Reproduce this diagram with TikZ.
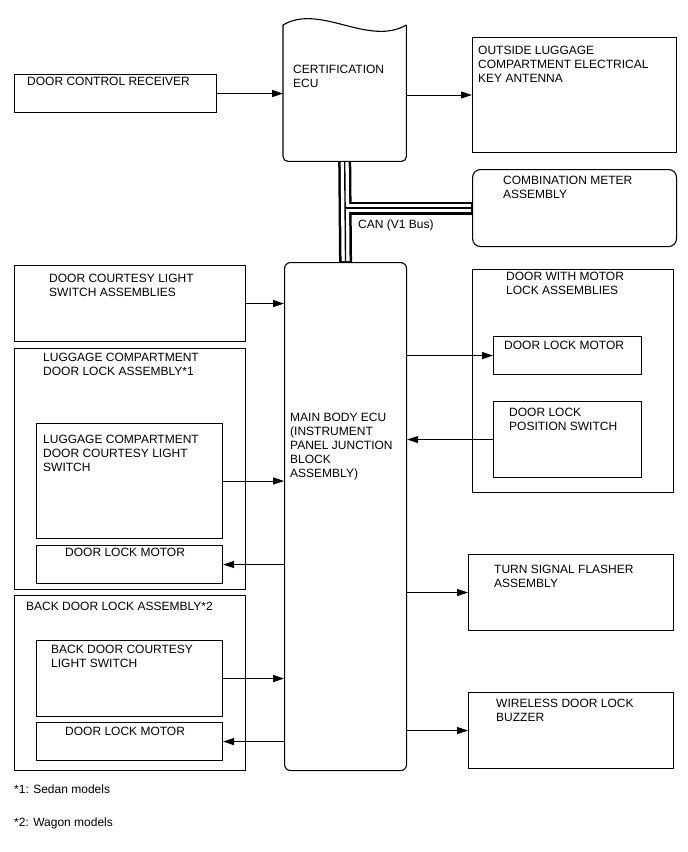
\documentclass[tikz,border=0pt]{standalone}
\usepackage{fontspec}
\setmainfont{Liberation Sans}
\usepackage{tikz}
\usetikzlibrary{arrows.meta,positioning,calc}
\colorlet{figink}{black}

\begin{document}
\begin{tikzpicture}[
  x=1pt, y=-1pt,
  font=\fontsize{12}{14}\selectfont,
  blk/.style={draw=figink, line width=1.1pt, inner sep=0pt, anchor=north west},
  lbl/.style={inner sep=0pt, anchor=north west, align=left, text=figink},
  sig/.style={figink, line width=1pt, -{Triangle[length=11pt,width=7pt]}},
]
  \useasboundingbox (0,0) rectangle (688,852);

  % plain boxes: name / left / top / right / bottom
  \foreach \nm/\xa/\ya/\xb/\yb in {
    recv/14/74/216/112,
    outside/472/37/676/152,
    court/14/265/245/341,
    lcasm/14/348/245/589,
    lcsw/36/423/222/538,
    lcmot/36/545/222/583,
    bdasm/14/595/245/770,
    bdsw/36/640/222/716,
    bdmot/36/722/222/760,
    drasm/472/269/673/492,
    drmot/493/336/641/374,
    drpos/493/401/641/477,
    turn/468/554/673/630,
    buzz/468/692/673/768%
  } {
    \node[blk, minimum width={(\xb-\xa)*1pt}, minimum height={(\yb-\ya)*1pt}]
      (\nm) at (\xa,\ya) {};
  }

  % rounded ones
  \node[blk, rounded corners=8pt, minimum width=204pt, minimum height=77pt] (comb) at (472,169) {};
  \node[blk, rounded corners=6pt, minimum width=122pt, minimum height=508pt] (main) at (284,262) {};

  % certification ECU with wavy top
  \node[inner sep=0pt, anchor=north west, minimum width=123pt, minimum height=136pt] (cert) at (283,25) {};
  \draw[figink, line width=1.1pt] (cert.north west) .. controls (320,3) and (368,47) .. (cert.north east);
  \draw[figink, line width=1.1pt, rounded corners=5pt]
    (cert.north east) -- (cert.south east) -- (cert.south west) -- (cert.north west);

  % CAN bus
  \foreach \w/\c/\s in {13pt/figink/0pt, 8pt/white/0.8pt, 1.4pt/figink/0pt} {
    \draw[line width=\w, \c, shorten <=\s, shorten >=\s] (cert.south) -- (main.north);
    \draw[line width=\w, \c, shorten >=\s] (cert.south |- comb.west) -- (comb.west);
  }

  % texts: name / left / top / text
  \foreach \nm/\tx/\ty/\txt in {
    recv/27/77/{DOOR CONTROL RECEIVER},
    cert/293/65/{CERTIFICATION\\ECU},
    outside/478/46/{OUTSIDE LUGGAGE\\COMPARTMENT ELECTRICAL\\KEY ANTENNA},
    comb/503/176/{COMBINATION METER\\ASSEMBLY},
    can/358/220/{CAN (V1 Bus)},
    court/49/274/{DOOR COURTESY LIGHT\\SWITCH ASSEMBLIES},
    lcasm/43/353/{LUGGAGE COMPARTMENT\\DOOR LOCK ASSEMBLY*1},
    lcsw/43/435/{LUGGAGE COMPARTMENT\\DOOR COURTESY LIGHT\\SWITCH},
    lcmot/65/548/{DOOR LOCK MOTOR},
    bdasm/26/602/{BACK DOOR LOCK ASSEMBLY*2},
    bdsw/51/645/{BACK DOOR COURTESY\\LIGHT SWITCH},
    bdmot/65/727/{DOOR LOCK MOTOR},
    main/290/413/{MAIN BODY ECU\\(INSTRUMENT\\PANEL JUNCTION\\BLOCK\\ASSEMBLY)},
    drasm/506/272/{DOOR WITH MOTOR\\LOCK ASSEMBLIES},
    drmot/504/341/{DOOR LOCK MOTOR},
    drpos/509/408/{DOOR LOCK\\POSITION SWITCH},
    turn/494/565/{TURN SIGNAL FLASHER\\ASSEMBLY},
    buzz/496/699/{WIRELESS DOOR LOCK\\BUZZER},
    fn1/14/785/{*1: Sedan models},
    fn2/14/818/{*2: Wagon models}%
  } {
    \node[lbl] (\nm-t) at (\tx,\ty) {\txt};
  }

  % signals
  \draw[sig] (recv) -- (recv -| cert.west);
  \draw[sig] (cert.east |- 0,95) -- (outside.west |- 0,95);
  \foreach \src in {court,lcsw,bdsw}
    \draw[sig] (\src) -- (\src -| main.west);
  \foreach \dst in {lcmot,bdmot}
    \draw[sig] (main.west |- \dst) -- (\dst);
  \foreach \dst in {drmot,turn,buzz}
    \draw[sig] (main.east |- \dst) -- (\dst);
  \draw[sig] (drpos) -- (drpos -| main.east);
\end{tikzpicture}
\end{document}
